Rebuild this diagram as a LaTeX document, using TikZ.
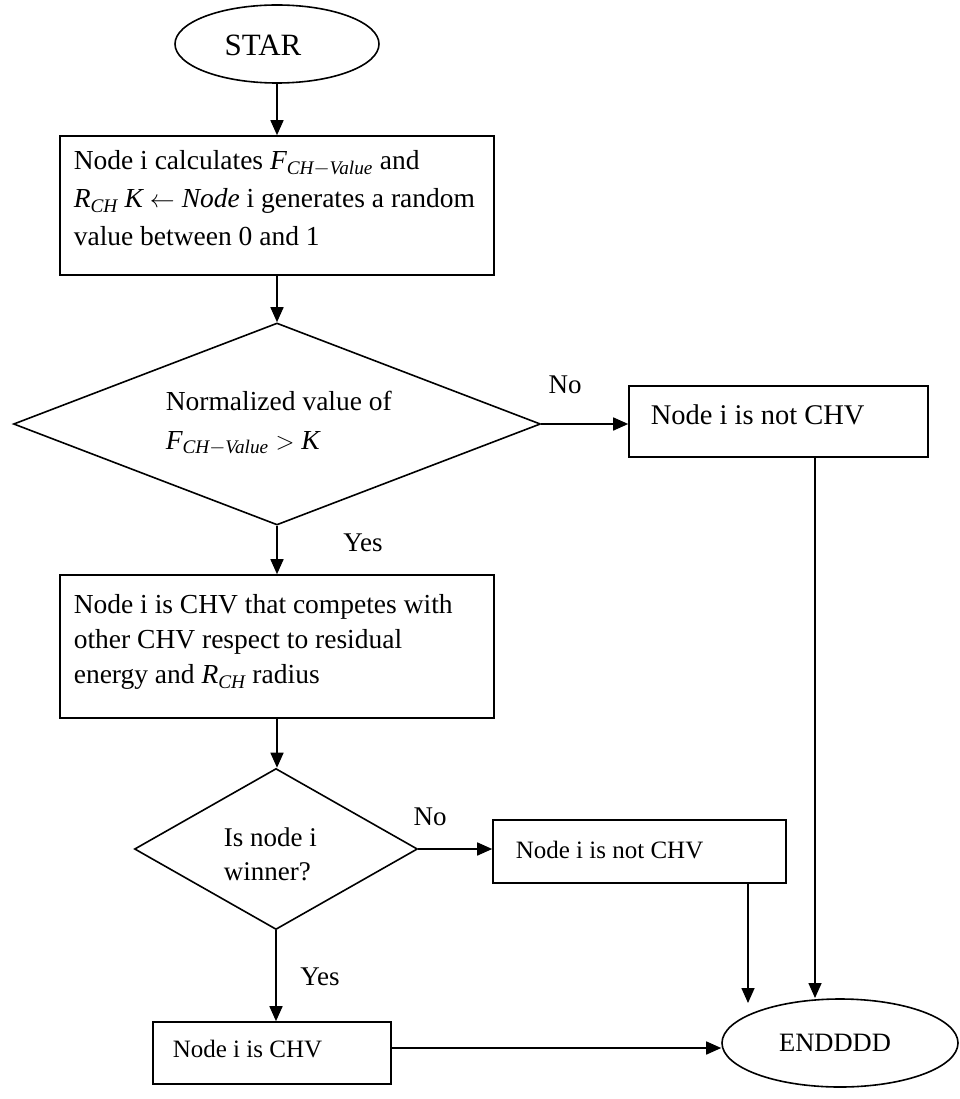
\documentclass[tikz,border=0pt]{standalone}
\usepackage{amsmath}
\usepackage{fontspec}
\setmainfont{Liberation Serif}
\usetikzlibrary{shapes.geometric,arrows.meta}
% italic variables set in the text face
\newcommand{\iv}[1]{\textit{#1}}
\newcommand{\Fch}{$\iv{F}_{\iv{CH}-\iv{Value}}$}
\newcommand{\Rch}{$\iv{R}_{\iv{CH}}$}
\begin{document}
\begin{tikzpicture}[x=1pt,y=-1pt,line width=1.6pt,
  txt/.style={inner sep=0pt,anchor=north west,align=left},
  big/.style={font=\fontsize{27.5}{38}\selectfont},
  small/.style={font=\fontsize{25}{34}\selectfont},
  box/.style={draw,rectangle,inner sep=0pt},
  decision/.style={draw,diamond,inner sep=0pt},
  terminal/.style={draw,ellipse,inner sep=0pt},
  arr/.style={-{Triangle[length=15pt,width=13pt]}},
  lbl/.style={font=\fontsize{27}{30}\selectfont,inner sep=0pt}]

\useasboundingbox (0,0) rectangle (959,1099);

% terminals
\node[terminal,minimum width=204pt,minimum height=78pt] (start) at (277,44) {};
\node[inner sep=0pt,font=\fontsize{31}{33}\selectfont] (startlbl) at (263,45) {STAR};
\node[terminal,minimum width=236pt,minimum height=88pt] (end) at (840,1043) {};
\node[inner sep=0pt,font=\fontsize{26.5}{30}\selectfont] (endlbl) at (835,1043) {ENDDDD};

% process boxes
\node[box,minimum width=434pt,minimum height=139pt] (b1) at (277,205.5) {};
\node[txt,big] (t1) at (73,150) {Node i calculates \Fch{} and\\\Rch{} $\iv{K}\leftarrow\iv{Node}$ i generates a random\\value between 0 and 1};

\node[box,minimum width=299pt,minimum height=71pt] (r1) at (778.5,421.5) {};
\node[txt,font=\fontsize{28.5}{32}\selectfont] (tr1) at (650,404) {Node i is not CHV};

\node[box,minimum width=434pt,minimum height=143pt] (b2) at (277,646.5) {};
\node[txt,font=\fontsize{27.5}{35}\selectfont] (t2) at (73,594) {Node i is CHV that competes with\\other CHV respect to residual\\energy and \Rch{} radius};

\node[box,minimum width=293pt,minimum height=63pt] (r2) at (639.5,851.5) {};
\node[txt,small] (tr2) at (515,840) {Node i is not CHV};

\node[box,minimum width=238pt,minimum height=62pt] (b3) at (272,1053) {};
\node[txt,small] (t3) at (172,1039) {Node i is CHV};

% decisions
\node[decision,minimum width=527pt,minimum height=202pt] (d1) at (277,424) {};
\node[txt,font=\fontsize{27.5}{39}\selectfont] (td1) at (165,390) {Normalized value of\\\Fch{} $>\iv{K}$};

\node[decision,minimum width=283pt,minimum height=161pt] (d2) at (276,849) {};
\node[txt,font=\fontsize{27}{34}\selectfont] (td2) at (223,827) {Is node i\\winner?};

% branch labels
\node[lbl] (no1) at (565,385) {No};
\node[lbl] (yes1) at (363,543) {Yes};
\node[lbl] (no2) at (430,817) {No};
\node[lbl] (yes2) at (320,977) {Yes};

% free ends above the end terminal
\coordinate (e1) at (748,1003);
\coordinate (e2) at (815,998);

% connectors
\draw[arr] (start.south) -- (start.south |- b1.north);
\draw[arr] (b1.south) -- (d1.north);
\draw[arr] (d1.east) -- (d1.east -| r1.west);
\draw[arr] (d1.south) -- (b2.north);
\draw[arr] (b2.south) -- (b2.south |- d2.north);
\draw[arr] (d2.east) -- (d2.east -| r2.west);
\draw[arr] (d2.south) -- (d2.south |- b3.north);
\draw[arr] (r1.south -| e2) -- (e2);
\draw[arr] (r2.south -| e1) -- (e1);
\draw[arr] (b3.east |- 0,1048) -- (end.west |- 0,1048);

\end{tikzpicture}
\end{document}
